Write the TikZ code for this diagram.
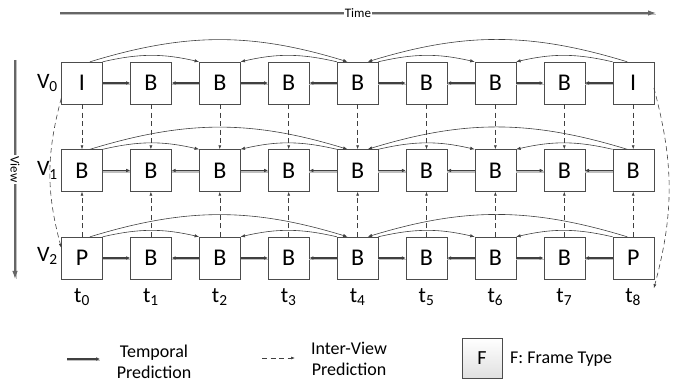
\documentclass[tikz,border=0pt]{standalone}
\usepackage{fontspec}
\setmainfont{Carlito}
\usetikzlibrary{arrows.meta}

\begin{document}
\begin{tikzpicture}[x=1pt,y=1pt,
    frame/.style={draw=black!70,fill=white,minimum width=41pt,minimum height=42pt,inner sep=0pt,font=\fontsize{24}{28}\selectfont},
    label node/.style={font=\fontsize{22}{26}\selectfont,inner sep=0pt},
    legend text/.style={font=\fontsize{18}{21}\selectfont,align=center,inner sep=0pt},
    temporal/.style={draw=black!75,line width=1.4pt,-{Latex[length=4pt,width=3.8pt]},
        preaction={draw=black!25,line width=1.6pt,arrows=-,transform canvas={yshift=-1.4pt}}},
    interview/.style={draw=black!75,line width=0.6pt,dash pattern=on 5pt off 3.5pt,-{Latex[length=4pt,width=3pt]}},
    arc/.style={draw=black!75,line width=0.6pt,-{Latex[length=4.5pt,width=3.4pt]}},
    axis/.style={draw=black!60,line width=1.1pt,-{Latex[length=8pt,width=5.5pt]}}]

 \useasboundingbox (0,0) rectangle (681,383);

 % V0
 \node[frame] (a0) at (82,300) {I};
 \node[frame] (a1) at (150.9,300) {B};
 \node[frame] (a2) at (219.8,300) {B};
 \node[frame] (a3) at (288.7,300) {B};
 \node[frame] (a4) at (357.6,300) {B};
 \node[frame] (a5) at (426.5,300) {B};
 \node[frame] (a6) at (495.4,300) {B};
 \node[frame] (a7) at (564.3,300) {B};
 \node[frame] (a8) at (633.2,300) {I};

 % V1
 \node[frame] (b0) at (82,212.5) {B};
 \node[frame] (b1) at (150.9,212.5) {B};
 \node[frame] (b2) at (219.8,212.5) {B};
 \node[frame] (b3) at (288.7,212.5) {B};
 \node[frame] (b4) at (357.6,212.5) {B};
 \node[frame] (b5) at (426.5,212.5) {B};
 \node[frame] (b6) at (495.4,212.5) {B};
 \node[frame] (b7) at (564.3,212.5) {B};
 \node[frame] (b8) at (633.2,212.5) {B};

 % V2
 \node[frame] (c0) at (82,125) {P};
 \node[frame] (c1) at (150.9,125) {B};
 \node[frame] (c2) at (219.8,125) {B};
 \node[frame] (c3) at (288.7,125) {B};
 \node[frame] (c4) at (357.6,125) {B};
 \node[frame] (c5) at (426.5,125) {B};
 \node[frame] (c6) at (495.4,125) {B};
 \node[frame] (c7) at (564.3,125) {B};
 \node[frame] (c8) at (633.2,125) {P};

 \node[label node,anchor=east] (v0) at (58,300) {V\textsubscript{0}};
 \node[label node,anchor=east] (v1) at (58,212.5) {V\textsubscript{1}};
 \node[label node,anchor=east] (v2) at (58,127) {V\textsubscript{2}};

 \node[label node] (t0) at (82,86) {t\textsubscript{0}};
 \node[label node] (t1) at (150.9,86) {t\textsubscript{1}};
 \node[label node] (t2) at (219.8,86) {t\textsubscript{2}};
 \node[label node] (t3) at (288.7,86) {t\textsubscript{3}};
 \node[label node] (t4) at (357.6,86) {t\textsubscript{4}};
 \node[label node] (t5) at (426.5,86) {t\textsubscript{5}};
 \node[label node] (t6) at (495.4,86) {t\textsubscript{6}};
 \node[label node] (t7) at (564.3,86) {t\textsubscript{7}};
 \node[label node] (t8) at (633.2,86) {t\textsubscript{8}};

 % time and view axes
 \coordinate (time start) at (60,370);
 \coordinate (time end) at (656,370);
 \coordinate (view start) at (15,323);
 \coordinate (view end) at (15,104);
 \draw[axis,preaction={draw=black!25,line width=1pt,arrows=-,transform canvas={yshift=-1.6pt}}]
   (time start) -- node[fill=white,inner sep=1pt,font=\fontsize{13}{15}\selectfont] (time) {Time} (time end);
 \draw[axis,preaction={draw=black!25,line width=1pt,arrows=-,transform canvas={xshift=1.6pt}}]
   (view start) -- node[fill=white,inner sep=1pt,rotate=-90,font=\fontsize{13}{15}\selectfont] (view) {View} (view end);

 % temporal prediction
 \path[every edge/.style={temporal}]
   (a0) edge (a1) (a2) edge (a1) (a2) edge (a3) (a4) edge (a3)
   (a4) edge (a5) (a6) edge (a5) (a6) edge (a7) (a8) edge (a7)
   (b0) edge (b1) (b2) edge (b1) (b2) edge (b3) (b4) edge (b3)
   (b4) edge (b5) (b6) edge (b5) (b6) edge (b7) (b8) edge (b7)
   (c0) edge (c1) (c2) edge (c1) (c2) edge (c3) (c4) edge (c3)
   (c4) edge (c5) (c6) edge (c5) (c6) edge (c7) (c8) edge (c7);

 \path[every edge/.style={arc}]
   (a0.north east) edge[bend left=13] (a2.north west)
   (a4.north west) edge[bend right=13] (a2.north east)
   (a4.north east) edge[bend left=13] (a6.north west)
   (a8.north west) edge[bend right=13] (a6.north east)
   ([xshift=8pt]a0.north) edge[bend left=17] ([xshift=-10pt]a4.north)
   ([xshift=-6pt]a8.north) edge[bend right=17] ([xshift=10pt]a4.north)
   (b0.north east) edge[bend left=13] (b2.north west)
   (b4.north west) edge[bend right=13] (b2.north east)
   (b4.north east) edge[bend left=13] (b6.north west)
   (b8.north west) edge[bend right=13] (b6.north east)
   ([xshift=8pt]b0.north) edge[bend left=17] ([xshift=-10pt]b4.north)
   ([xshift=-6pt]b8.north) edge[bend right=17] ([xshift=10pt]b4.north)
   (c0.north east) edge[bend left=13] (c2.north west)
   (c4.north west) edge[bend right=13] (c2.north east)
   (c4.north east) edge[bend left=13] (c6.north west)
   (c8.north west) edge[bend right=13] (c6.north east)
   ([xshift=8pt]c0.north) edge[bend left=17] ([xshift=-10pt]c4.north)
   ([xshift=-6pt]c8.north) edge[bend right=17] ([xshift=10pt]c4.north);

 % inter-view prediction
 \path[every edge/.style={interview}]
   (a0) edge (b0) (a1) edge (b1) (a2) edge (b2) (a3) edge (b3) (a4) edge (b4)
   (a5) edge (b5) (a6) edge (b6) (a7) edge (b7) (a8) edge (b8)
   (c0) edge (b0) (c1) edge (b1) (c2) edge (b2) (c3) edge (b3) (c4) edge (b4)
   (c5) edge (b5) (c6) edge (b6) (c7) edge (b7) (c8) edge (b8)
   ([yshift=6pt]a0.south west) edge[out=255,in=105] ([yshift=-11pt]c0.north west)
   ([yshift=-5pt]a8.east) edge[out=-75,in=75] ([yshift=-9pt]c8.south east);

 % legend
 \coordinate (temporal start) at (67,24);
 \coordinate (temporal end) at (100,24);
 \draw[temporal] (temporal start) -- (temporal end);
 \node[legend text] (temporal text) at (154,21) {Temporal\\Prediction};

 \coordinate (interview start) at (262,25);
 \coordinate (interview end) at (295,25);
 \draw[interview] (interview start) -- (interview end);
 \node[legend text] (interview text) at (349,24) {Inter-View\\Prediction};

 \node[frame,minimum width=40pt,minimum height=40pt,top color=white,bottom color=black!12,font=\fontsize{20}{24}\selectfont] (fbox) at (482,25) {F};
 \node[legend text,anchor=west] (ftext) at (510,24) {F: Frame Type};

\end{tikzpicture}
\end{document}
